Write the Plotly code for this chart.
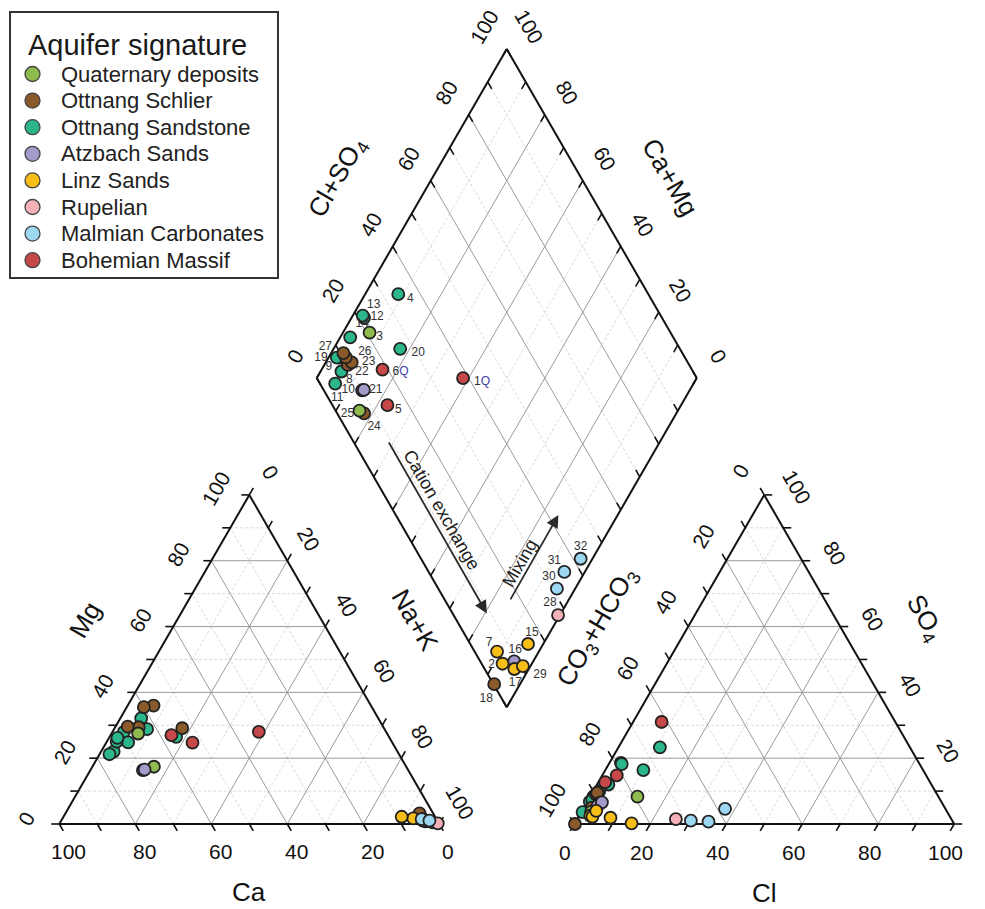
import numpy as np
import plotly.graph_objects as go

# ---------------------------------------------------------------------------
# Hydrochemical data (meq %)
# ---------------------------------------------------------------------------
sample_ids = ["1Q", "2", "3", "4", "5", "6Q", "7", "8", "9", "10", "11", "12",
              "13", "14", "15", "16", "17", "18", "19", "20", "21", "22", "23",
              "24", "25", "26", "27", "28", "29", "30", "31", "32"]
aquifer = ["Bohemian Massif", "Linz Sands", "Quaternary deposits", "Ottnang Sandstone",
           "Bohemian Massif", "Bohemian Massif", "Linz Sands", "Ottnang Sandstone",
           "Ottnang Sandstone", "Atzbach Sands", "Ottnang Sandstone", "Ottnang Sandstone",
           "Ottnang Sandstone", "Ottnang Sandstone", "Linz Sands", "Atzbach Sands",
           "Linz Sands", "Ottnang Schlier", "Ottnang Sandstone", "Ottnang Sandstone",
           "Atzbach Sands", "Ottnang Schlier", "Ottnang Schlier", "Ottnang Schlier",
           "Quaternary deposits", "Ottnang Schlier", "Ottnang Schlier", "Rupelian",
           "Linz Sands", "Malmian Carbonates", "Malmian Carbonates", "Malmian Carbonates"]
ca = [33.5, 6.0, 65.5, 62.5, 52.6, 57.0, 8.8, 62.4, 69.0, 69.8, 69.5, 74.7,
      72.4, 76.2, 3.2, 3.5, 2.8, 3.6, 71.6, 56.0, 69.3, 64.4, 57.2,
      53.1, 66.4, 60.0, 67.2, 0.3, 1.5, 3.8, 3.9, 2.1]
mg = [28.0, 1.7, 27.5, 28.8, 24.7, 27.0, 2.2, 32.1, 28.0, 16.4, 24.8, 22.0,
      25.0, 21.2, 0.8, 1.5, 1.0, 3.2, 26.2, 26.5, 16.5, 29.4, 36.0,
      29.1, 17.4, 35.5, 29.6, 0.2, 0.5, 1.0, 1.5, 1.0]
na_k = [38.5, 92.3, 7.0, 8.7, 22.7, 16.0, 89.0, 5.5, 3.0, 13.8, 5.7, 3.3,
        2.6, 2.6, 96.0, 95.0, 96.2, 93.2, 2.2, 17.5, 14.2, 6.2, 6.8,
        17.8, 16.2, 4.5, 3.2, 99.5, 98.0, 95.2, 94.6, 96.9]
hco3 = [61.5, 94.5, 79.2, 65.8, 85.5, 81.4, 94.1, 92.5, 90.8, 89.9, 96.0, 78.4,
        78.4, 85.0, 84.8, 91.1, 92.2, 99.8, 91.6, 73.6, 89.4, 89.8, 88.4,
        92.9, 93.7, 89.2, 89.2, 72.5, 89.5, 68.8, 64.3, 58.0]
so4 = [31.0, 2.5, 8.3, 23.3, 12.7, 14.8, 2.2, 6.8, 8.3, 6.5, 3.6, 18.6,
       18.2, 12.0, 0.2, 5.5, 4.0, 0.0, 7.3, 16.4, 6.6, 9.0, 10.0,
       5.0, 3.7, 9.3, 9.5, 1.5, 1.9, 1.0, 0.7, 4.6]
cl = [7.5, 3.0, 12.5, 10.9, 1.8, 3.8, 3.7, 0.7, 0.9, 3.6, 0.4, 3.0,
      3.4, 3.0, 15.0, 3.4, 3.8, 0.2, 1.1, 10.0, 4.0, 1.2, 1.6,
      2.1, 2.6, 1.5, 1.3, 26.0, 8.6, 30.2, 35.0, 37.4]

aquifer_names = ["Quaternary deposits", "Ottnang Schlier", "Ottnang Sandstone",
                 "Atzbach Sands", "Linz Sands", "Rupelian", "Malmian Carbonates",
                 "Bohemian Massif"]
aquifer_colors = ["#8fba4e", "#8b5a2b", "#2bb68b", "#a29bcb", "#f6be16",
                  "#f4b2b8", "#9cd8f2", "#c74848"]
draw_order = ["Ottnang Sandstone", "Ottnang Schlier", "Quaternary deposits",
              "Atzbach Sands", "Bohemian Massif", "Linz Sands", "Rupelian",
              "Malmian Carbonates"]

tick_values = [0, 20, 40, 60, 80, 100]

# offsets (px) of the sample-number labels from their diamond symbols
label_offsets = {
    "1Q": (19, 4), "2": (-11, 1), "3": (10, 4), "4": (12, 5), "5": (11, 5),
    "6Q": (18, 2), "7": (-8, -9), "8": (8, 8), "9": (-11, 9), "10": (-14, 0),
    "11": (2, 14), "12": (13, -1), "13": (11, -11), "14": (12, -13),
    "15": (4, -11), "16": (1, -11), "17": (1, 14), "18": (-8, 15),
    "19": (-16, 0), "20": (18, 4), "21": (12, 0), "22": (14, 7),
    "23": (17, 0), "24": (10, 14), "25": (-12, 3), "26": (19, -5),
    "27": (-18, -6), "28": (-8, -12), "29": (17, 9), "30": (-8, -12),
    "31": (-10, -11), "32": (0, -12),
}

# ---------------------------------------------------------------------------
# Piper geometry (unit side length, converted to page pixels)
# ---------------------------------------------------------------------------
SIDE = 380.0
ORIGIN_X, ORIGIN_Y = 59.3, 824.0
GAP = 0.355
H = np.sqrt(3) / 2
FONT = "Liberation Sans, Arial, sans-serif"


def to_px(u, v):
    return ORIGIN_X + SIDE * u, ORIGIN_Y - SIDE * v


def cation_uv(mg_f, nak_f):
    return nak_f + mg_f / 2, mg_f * H


def anion_uv(so4_f, cl_f):
    return 1 + GAP + cl_f + so4_f / 2, so4_f * H


def diamond_uv(a, b):
    # a = Cl+SO4 fraction, b = Ca+Mg fraction
    return 1 + GAP / 2 + (a - b) / 2, GAP * H + H * (a + b)


def seg_trace(segments, color, width, dash="solid"):
    xs, ys = [], []
    for p, q in segments:
        x1, y1 = to_px(*p)
        x2, y2 = to_px(*q)
        xs += [x1, x2, None]
        ys += [y1, y2, None]
    return go.Scatter(x=xs, y=ys, mode="lines", hoverinfo="skip", showlegend=False,
                      line=dict(color=color, width=width, dash=dash))


fig = go.Figure()

# grid lines
solid, dashed = [], []
for k in range(1, 10):
    f = k / 10
    segs = [
        (cation_uv(f, 0), cation_uv(f, 1 - f)),
        (cation_uv(0, f), cation_uv(1 - f, f)),
        (cation_uv(0, 1 - f), cation_uv(1 - f, 0)),
        (anion_uv(f, 0), anion_uv(f, 1 - f)),
        (anion_uv(0, f), anion_uv(1 - f, f)),
        (anion_uv(0, 1 - f), anion_uv(1 - f, 0)),
        (diamond_uv(f, 0), diamond_uv(f, 1)),
        (diamond_uv(0, f), diamond_uv(1, f)),
    ]
    (solid if k % 2 == 0 else dashed).extend(segs)
fig.add_trace(seg_trace(dashed, "#cfcfcf", 0.8, "3px,2px"))
fig.add_trace(seg_trace(solid, "#9a9a9a", 1.0))

# ticks every 10 %
TL = 8 / SIDE
ticks = []
for k in range(0, 11):
    f = k / 10
    spec = [
        (cation_uv(0, 1 - f), (0.5, -H)),      # Ca
        (cation_uv(f, 0), (-1, 0)),            # Mg
        (cation_uv(1 - f, f), (0.5, H)),       # Na+K
        (anion_uv(0, f), (-0.5, -H)),          # Cl
        (anion_uv(1 - f, 0), (-0.5, H)),       # CO3+HCO3
        (anion_uv(f, 1 - f), (1, 0)),          # SO4
        (diamond_uv(0, f), (0.5, H)),
        (diamond_uv(f, 0), (-0.5, H)),
        (diamond_uv(f, 1), (0.5, -H)),
        (diamond_uv(1, f), (-0.5, -H)),
    ]
    for (u, v), (du, dv) in spec:
        ticks.append(((u, v), (u + du * TL, v + dv * TL)))
fig.add_trace(seg_trace(ticks, "#111111", 1.6))

# outlines
outline = []
for poly in ([cation_uv(0, 0), cation_uv(0, 1), cation_uv(1, 0), cation_uv(0, 0)],
             [anion_uv(0, 0), anion_uv(0, 1), anion_uv(1, 0), anion_uv(0, 0)],
             [diamond_uv(0, 0), diamond_uv(1, 0), diamond_uv(1, 1), diamond_uv(0, 1),
              diamond_uv(0, 0)]):
    outline += list(zip(poly[:-1], poly[1:]))
fig.add_trace(seg_trace(outline, "#111111", 2.0))

# sample symbols in the three fields
color_of = dict(zip(aquifer_names, aquifer_colors))
diamond_px = {}
for name in draw_order:
    xs, ys = [], []
    for i, grp in enumerate(aquifer):
        if grp != name:
            continue
        tot_c = ca[i] + mg[i] + na_k[i]
        tot_a = hco3[i] + so4[i] + cl[i]
        pts = [cation_uv(mg[i] / tot_c, na_k[i] / tot_c),
               anion_uv(so4[i] / tot_a, cl[i] / tot_a),
               diamond_uv((so4[i] + cl[i]) / tot_a, (ca[i] + mg[i]) / tot_c)]
        for p in pts:
            x, y = to_px(*p)
            xs.append(x)
            ys.append(y)
        diamond_px[sample_ids[i]] = to_px(*pts[2])
    fig.add_trace(go.Scatter(
        x=xs, y=ys, mode="markers", name=name, showlegend=False,
        marker=dict(size=12, color=color_of[name], line=dict(color="#222222", width=1.8))))

# sample numbers in the diamond
lx, ly, lt = [], [], []
for sid in sample_ids:
    x, y = diamond_px[sid]
    dx, dy = label_offsets[sid]
    lx.append(x + dx)
    ly.append(y + dy)
    lt.append(sid.replace("Q", "<span style='color:#3b3ba8'>Q</span>"))
fig.add_trace(go.Scatter(x=lx, y=ly, text=lt, mode="text", showlegend=False,
                         textfont=dict(family=FONT, size=12, color="#333333"),
                         hoverinfo="skip"))

annotations = []


def text_at(x, y, txt, size, angle=0, color="#111111", xanchor="center"):
    annotations.append(dict(x=x, y=y, xref="x", yref="y", text=txt, showarrow=False,
                            textangle=angle, xanchor=xanchor, yanchor="middle",
                            font=dict(family=FONT, size=size, color=color)))


# tick labels
label_specs = [
    (lambda t: cation_uv(0, 1 - t), (9, 27), 0),
    (lambda t: cation_uv(t, 0), (-33, -6), -60),
    (lambda t: cation_uv(1 - t, t), (21, -22), 60),
    (lambda t: anion_uv(0, t), (-9, 28), 0),
    (lambda t: anion_uv(1 - t, 0), (-23, -24), -60),
    (lambda t: anion_uv(t, 1 - t), (32, -8), 60),
    (lambda t: diamond_uv(t, 1), (-22, -22), -60),
    (lambda t: diamond_uv(1, t), (22, -22), 60),
]
for base, (ox, oy), ang in label_specs:
    for val in tick_values:
        x, y = to_px(*base(val / 100))
        text_at(x + ox, y + oy, str(val), 21, ang)

# axis titles
text_at(249, 892, "Ca", 26)
text_at(85, 620, "Mg", 26, -60)
text_at(415, 620, "Na+K", 26, 60)
text_at(764, 893, "Cl", 26)
text_at(925, 618, "SO<sub>4</sub>", 26, 60)
text_at(597, 627, "CO<sub>3</sub>+HCO<sub>3</sub>", 26, -60)
text_at(337, 178, "Cl+SO<sub>4</sub>", 26, -60)
text_at(670, 177, "Ca+Mg", 26, 60)

# process arrows
for tail, tip, lab, lab_pos, ang in [
        ((0.092, 0.717), (0.090, 0.195), "Cation exchange", (0.128, 0.471), 60),
        ((0.169, 0.154), (0.428, 0.156), "Mixing", (0.2535, 0.184), -60)]:
    tx, ty = to_px(*diamond_uv(*tail))
    hx, hy = to_px(*diamond_uv(*tip))
    annotations.append(dict(x=hx, y=hy, ax=tx, ay=ty, xref="x", yref="y",
                            axref="x", ayref="y", text="", showarrow=True,
                            arrowhead=2, arrowsize=1.4, arrowwidth=1.8,
                            arrowcolor="#2a2a2a"))
    px_, py_ = to_px(*diamond_uv(*lab_pos))
    text_at(px_, py_, lab, 18, ang, "#222222")

# legend box
LEG_X0, LEG_Y0, LEG_X1, LEG_Y1 = 10, 12, 278, 278
text_at(26, 45, "Aquifer signature", 29, 0, "#1a1a1a", "left")
row_y = [74 + 26.6 * k for k in range(len(aquifer_names))]
fig.add_trace(go.Scatter(
    x=[32.5] * len(aquifer_names), y=row_y, mode="markers", showlegend=False,
    hoverinfo="skip",
    marker=dict(size=15, color=aquifer_colors, line=dict(color="#444444", width=1.3))))
for name, y in zip(aquifer_names, row_y):
    text_at(59, y, name, 22, 0, "#222222", "left")

fig.update_layout(
    width=985, height=909, margin=dict(l=0, r=0, t=0, b=0),
    paper_bgcolor="white", plot_bgcolor="white", showlegend=False,
    xaxis=dict(range=[0, 985], visible=False, fixedrange=True),
    yaxis=dict(range=[909, 0], visible=False, fixedrange=True),
    annotations=annotations,
    shapes=[dict(type="rect", xref="x", yref="y", x0=LEG_X0, y0=LEG_Y0,
                 x1=LEG_X1, y1=LEG_Y1, line=dict(color="#333333", width=2))],
)

fig.write_html("out.html")
